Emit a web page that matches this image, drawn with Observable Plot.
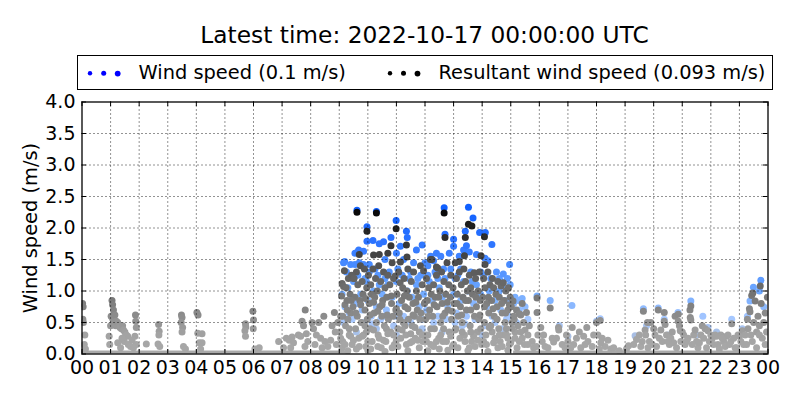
<!DOCTYPE html>
<html>
<head>
<meta charset="utf-8">
<script src="https://cdn.jsdelivr.net/npm/d3@7"></script>
<script src="https://cdn.jsdelivr.net/npm/@observablehq/plot@0.6"></script>
<style>
  html, body { margin: 0; padding: 0; background: #fff; }
  body { width: 800px; height: 400px; overflow: hidden; font-family: "DejaVu Sans", sans-serif; }
  #title { height: 55px; box-sizing: border-box; padding-top: 20.5px; margin-left: 81.5px; width: 686px;
           text-align: center; font-size: 23.3px; line-height: 27px; color: #000; white-space: nowrap; }
  #legendwrap { height: 35px; position: relative; }
  #legend { position: absolute; left: 77px; top: 0; width: 696px; height: 35px; box-sizing: border-box;
            border: 1px solid #000; font-size: 19.4px; }
  #legend .lab { position: absolute; top: 5px; line-height: 23px; white-space: nowrap; }
  #legend svg { position: absolute; top: 0; left: 0; }
  svg { display: block; }
</style>
</head>
<body>
<div id="title"></div>
<div id="legendwrap"><div id="legend"></div></div>
<div id="chart"></div>
<script>
// ---------------- data ----------------
const titleText = "Latest time: 2022-10-17 00:00:00 UTC";
const seriesNames = ["Wind speed (0.1 m/s)", "Resultant wind speed (0.093 m/s)"];
const yLabel = "Wind speed (m/s)";
const hourTicks = d3.range(0, 25);
const hourLabels = ["00","01","02","03","04","05","06","07","08","09","10","11","12","13","14","15","16","17","18","19","20","21","22","23","00"];
const speedTicks = [0, 0.5, 1, 1.5, 2, 2.5, 3, 3.5, 4];
const speedLabels = ["0.0","0.5","1.0","1.5","2.0","2.5","3.0","3.5","4.0"];

// calm periods (speed 0) [start hour, end hour]
const calmPeriods = [[0, 9.4], [15.1, 24]];

// wind speed samples [hour, m/s]
const windSpeed = [
  [9.62,2.28],[10.30,2.26],[10.99,2.12],[9.97,2.02],[11.35,1.95],[11.38,1.85],[9.97,1.79],[10.18,1.8],[10.4,1.75],
  [10.55,1.78],[10.81,1.85],[11.14,1.71],[11.7,1.65],[11.9,1.73],[9.68,1.65],[9.62,1.61],[9.85,1.63],[9.55,1.6],
  [9.19,1.47],[9.15,1.45],[9.4,1.42],[9.55,1.42],[9.7,1.45],[9.85,1.42],[10.05,1.42],[11.6,1.45],[12.0,1.45],
  [12.3,1.48],[12.1,1.4],[12.67,2.32],[13.52,2.33],[13.68,2.16],[12.7,1.9],[13.41,1.95],[13.91,1.93],[14.11,1.93],
  [13.0,1.82],[13.0,1.71],[14.34,1.74],[13.35,1.65],[13.45,1.72],[13.55,1.62],[14.96,1.42],[14.1,1.52],[14.2,1.48],
  [12.4,1.6],[12.55,1.55],[12.85,1.6],[13.2,1.55],[13.8,1.58],[14.5,1.3],[14.6,1.2],[14.7,1.08],[14.74,1.27],
  [14.98,1.1],[14.6,1.0],[10.6,1.5],[11.0,1.6],[11.25,1.5],[12.2,1.55],
  [9.1,0.95],[9.2,0.75],[9.3,1.05],[9.35,0.65],[9.45,0.9],[9.5,1.15],[9.6,0.8],[9.65,1.25],[9.75,0.95],[9.8,0.7],
  [9.9,1.2],[10.0,0.85],[10.05,1.3],[10.12,0.6],[10.2,1.0],[10.25,1.35],[10.3,0.75],[10.4,1.1],[10.45,0.55],
  [10.5,0.95],[10.6,1.2],[10.65,0.7],[10.75,1.3],[10.85,0.9],[10.95,0.6],[11.0,1.15],[11.1,0.8],[11.2,1.25],
  [11.3,0.55],[11.38,1.0],[11.45,1.2],[11.55,0.9],[11.62,0.6],[11.7,1.1],[11.8,0.75],[11.85,1.25],[11.95,0.95],
  [12.05,0.7],[12.15,1.15],[12.25,0.85],[12.35,1.3],[12.45,0.6],[12.5,1.05],[12.6,0.9],[12.7,1.2],[12.8,0.75],
  [12.9,1.35],[13.0,0.95],[13.1,0.65],[13.15,1.25],[13.25,0.85],[13.35,1.15],[13.45,0.6],[13.5,1.0],[13.6,1.3],
  [13.7,0.8],[13.8,1.1],[13.85,0.55],[13.95,0.95],[14.05,1.25],[14.15,0.75],[14.25,1.0],[14.35,0.6],[14.45,0.85],
  [14.55,0.95],[14.65,0.7],[14.8,0.85],[14.9,0.6],[15.0,0.85],[15.1,0.8],[15.15,0.9],[15.25,0.85],[15.3,0.7],
  [15.4,0.88],[15.5,0.75],[15.6,0.55],[15.92,0.92],[16.38,0.85],[17.14,0.77],[17.0,0.28],[19.35,0.29],[19.64,0.72],
  [19.75,0.45],[20.16,0.73],[20.37,0.55],[21.3,0.84],[21.72,0.6],[22.73,0.55],[23.28,0.6],[23.37,0.84],[23.49,1.06],
  [23.75,1.17],[23.7,1.0],[23.85,0.75],[23.1,0.4],[22.2,0.35],[21.9,0.42],[21.5,0.3],[20.85,0.66],[20.5,0.3],
  [16.7,0.45],[18.13,0.56],[18.0,0.52],[9.6,0.35],[10.3,0.4],[11.0,0.3],[11.9,0.4],[12.6,0.35],[13.3,0.45],[14.0,0.3],[14.7,0.4],
  [9.15,0.5],[9.45,0.55],[9.85,0.5],[10.15,0.48],[10.55,0.6],[10.9,0.45],[11.25,0.6],[11.5,0.5],[11.9,0.55],[12.3,0.5],
  [12.75,0.55],[13.05,0.5],[13.4,0.48],[13.75,0.55],[14.1,0.45],[14.45,0.5],[14.85,0.55],[15.2,0.5],
  [9.25,1.3],[9.55,1.25],[9.95,1.15],[10.35,1.25],[10.7,1.1],[11.05,1.35],[11.5,1.3],[11.75,1.2],[12.1,1.25],[12.45,1.2],
  [12.65,1.35],[13.05,1.2],[13.25,1.35],[13.65,1.15],[13.95,1.3],[14.3,1.2],[14.65,1.15],[14.88,1.2]
];

// resultant wind speed samples [hour, m/s]
const resultantSpeed = [
  [0.02,0.80],[0.04,0.75],[0.03,0.55],[0.05,0.50],[0.1,0.30],[0.08,0.15],[0.12,0.08],
  [0.95,0.28],[0.97,0.15],[1.0,0.45],[1.02,0.6],[1.05,0.85],[1.07,0.78],[1.1,0.7],[1.08,0.55],[1.12,0.5],[1.15,0.62],
  [1.18,0.45],[1.2,0.52],[1.25,0.5],[1.3,0.45],[1.33,0.42],[1.38,0.4],[1.42,0.45],[1.45,0.38],[1.5,0.35],[1.55,0.3],
  [1.48,0.2],[1.6,0.28],[1.62,0.15],[1.7,0.12],[1.35,0.1],[1.25,0.18],[1.4,0.25],
  [1.87,0.62],[1.88,0.52],[1.9,0.42],[1.85,0.28],[1.9,0.15],[1.75,0.22],[1.8,0.1],[2.25,0.16],
  [2.68,0.47],[2.7,0.36],[2.69,0.3],[2.66,0.16],[2.72,0.12],
  [3.48,0.62],[3.5,0.58],[3.47,0.5],[3.52,0.42],[3.5,0.35],[3.55,0.12],[3.62,0.08],
  [4.02,0.66],[4.06,0.62],[4.05,0.33],[4.2,0.32],[4.1,0.18],[4.2,0.18],[4.15,0.08],
  [5.72,0.48],[5.73,0.43],[5.7,0.37],[5.72,0.28],[5.98,0.68],[6.0,0.54],[5.99,0.4],[6.05,0.08],[6.2,0.1],
  [6.88,0.2],[7.15,0.25],[7.25,0.22],[7.35,0.27],[7.4,0.18],[7.05,0.1],[7.3,0.1],
  [7.57,0.3],[7.65,0.28],[7.81,0.7],[7.7,0.52],[7.75,0.45],[7.85,0.32],[7.9,0.2],[7.8,0.12],
  [8.05,0.5],[8.1,0.4],[8.2,0.3],[8.28,0.5],[8.46,0.6],[8.35,0.25],[8.15,0.15],[8.5,0.2],[8.4,0.1],
  [8.83,0.66],[8.86,0.35],[8.7,0.22],[8.9,0.15],[8.6,0.12],[8.95,0.5],[8.75,0.45],
  [9.62,2.25],[10.30,2.24],[10.99,1.99],[9.97,1.95],[11.35,1.73],[10.81,1.72],[9.7,1.58],[10.2,1.57],[10.4,1.58],
  [10.7,1.6],[11.37,1.54],[11.14,1.46],[12.19,1.5],[12.4,1.38],[12.67,2.24],[13.52,2.06],[13.64,2.03],[12.7,1.85],
  [13.41,1.85],[14.08,1.86],[13.38,1.56],[13.96,1.56],[14.1,1.42],[12.77,1.45],[13.06,1.45],[13.2,1.47],[10.85,1.45],
  [11.4,1.35],[9.18,1.32],[9.5,1.2],[9.6,1.3],
  [9.02,0.35],[9.05,0.6],[9.08,0.92],[9.1,1.12],[9.12,0.2],[9.15,1.07],[9.2,0.78],[9.22,0.45],[9.24,1.05],
  [9.27,0.85],[9.3,0.55],[9.32,1.2],[9.35,0.3],[9.38,0.95],[9.4,0.65],[9.43,1.25],[9.45,0.15],[9.48,0.75],
  [9.52,1.2],[9.55,0.9],[9.57,0.4],[9.63,0.6],[9.65,1.1],[9.68,0.25],[9.72,0.85],[9.74,1.4],
  [9.77,0.5],[9.8,1.15],[9.83,0.95],[9.85,0.3],[9.88,1.35],[9.9,0.7],[9.93,0.12],[9.96,1.05],[9.98,0.55],
  [10.02,1.25],[10.05,0.8],[10.08,0.4],[10.1,1.1],[10.13,0.95],[10.15,0.2],[10.18,1.35],[10.22,0.65],[10.24,0.9],
  [10.27,1.2],[10.3,0.5],[10.33,1.0],[10.36,0.3],[10.38,1.4],[10.42,0.75],[10.45,1.15],[10.47,0.1],[10.49,0.6],
  [10.52,0.85],[10.55,1.3],[10.58,0.45],[10.6,1.05],[10.63,0.2],[10.66,0.9],[10.7,1.25],[10.72,0.55],
  [10.77,1.1],[10.8,0.35],[10.83,0.8],[10.88,0.6],[10.9,1.2],[10.93,0.15],[10.96,1.24],[10.98,0.7],
  [11.02,0.95],[11.05,0.4],[11.08,1.3],[11.1,0.65],[11.13,1.13],[11.15,0.25],[11.18,0.85],[11.22,1.05],[11.24,0.5],
  [11.27,1.2],[11.3,0.75],[11.33,0.3],[11.36,1.0],[11.42,0.55],[11.45,0.9],[11.48,0.18],
  [11.52,1.15],[11.55,0.45],[11.58,0.8],[11.6,1.3],[11.63,0.6],[11.66,0.25],[11.7,1.0],[11.73,0.7],
  [11.77,0.9],[11.8,0.35],[11.84,1.4],[11.86,0.65],[11.9,1.1],[11.93,0.2],[11.95,1.32],[11.98,0.8],
  [12.02,0.55],[12.05,1.2],[12.08,0.85],[12.1,0.3],[12.13,1.05],[12.16,0.7],[12.2,0.15],[12.22,0.95],[12.24,1.5],
  [12.27,0.6],[12.3,1.1],[12.33,0.4],[12.36,0.9],[12.4,1.25],[12.42,0.75],[12.45,1.36],[12.48,0.25],
  [12.52,1.0],[12.55,0.5],[12.58,1.3],[12.6,0.8],[12.63,0.2],[12.66,1.15],[12.7,0.65],[12.73,0.95],
  [12.8,0.7],[12.83,1.1],[12.85,0.35],[12.88,0.9],[12.9,1.25],[12.93,0.55],[12.96,0.12],[12.98,1.05],
  [13.02,0.8],[13.08,0.4],[13.1,1.2],[13.13,0.95],[13.16,0.6],[13.2,1.3],[13.22,0.25],[13.24,0.75],
  [13.27,1.1],[13.3,0.5],[13.33,0.9],[13.36,1.35],[13.38,0.3],[13.42,1.15],[13.45,0.7],[13.48,1.0],
  [13.52,0.85],[13.55,1.25],[13.58,0.45],[13.6,1.05],[13.63,0.2],[13.66,0.95],[13.72,1.29],[13.73,0.6],
  [13.77,1.2],[13.8,0.75],[13.83,0.35],[13.86,1.0],[13.88,0.55],[13.9,1.3],[13.93,0.85],[13.98,0.15],
  [14.02,0.9],[14.05,1.2],[14.08,0.5],[14.1,1.05],[14.13,0.3],[14.16,0.8],[14.2,1.3],[14.23,0.65],
  [14.27,1.1],[14.3,0.45],[14.33,0.85],[14.36,1.2],[14.4,1.05],[14.42,0.6],[14.45,0.25],[14.48,0.95],
  [14.52,0.75],[14.55,1.15],[14.58,0.4],[14.6,0.9],[14.63,0.2],[14.66,1.08],[14.7,0.65],[14.74,1.13],
  [14.77,0.85],[14.8,0.5],[14.83,1.0],[14.86,0.3],[14.9,0.7],[14.92,1.05],[14.95,0.15],[14.98,0.9],
  [9.1,0.1],[9.4,0.28],[9.7,0.12],[9.95,0.35],[10.1,0.08],[10.4,0.25],[10.65,0.4],[10.9,0.3],[11.05,0.12],
  [11.3,0.45],[11.55,0.2],[11.8,0.1],[12.0,0.3],[12.3,0.12],[12.55,0.3],[12.75,0.2],[13.0,0.15],[13.3,0.35],
  [13.55,0.1],[13.7,0.28],[13.95,0.4],[14.15,0.15],[14.35,0.35],[14.55,0.1],[14.75,0.3],[14.9,0.25],[15.05,0.5],
  [9.3,0.05],[10.0,0.06],[10.6,0.04],[11.4,0.05],[12.1,0.05],[12.8,0.06],[13.5,0.05],[14.2,0.04],[14.9,0.06],
  [9.05,0.25],[9.2,0.15],[9.35,0.4],[9.5,0.22],[9.6,0.08],[9.8,0.28],[9.9,0.45],[10.0,0.2],[10.2,0.38],[10.35,0.12],
  [10.55,0.22],[10.7,0.32],[10.85,0.1],[11.0,0.22],[11.2,0.38],[11.35,0.15],[11.5,0.32],[11.65,0.42],[11.75,0.22],
  [11.9,0.3],[12.05,0.2],[12.2,0.4],[12.4,0.2],[12.5,0.08],[12.65,0.4],[12.9,0.28],[13.05,0.38],[13.15,0.1],
  [13.4,0.2],[13.6,0.35],[13.75,0.12],[13.85,0.22],[14.05,0.2],[14.25,0.42],[14.4,0.18],[14.6,0.3],[14.7,0.12],
  [14.85,0.4],[15.0,0.18],[15.15,0.35],[15.25,0.45],[15.4,0.25],[15.5,0.38],
  [9.12,0.6],[9.28,0.7],[9.42,0.85],[9.58,0.65],[9.75,0.78],[9.92,0.88],[10.08,0.62],[10.2,0.82],[10.35,0.68],
  [10.5,0.78],[10.68,0.62],[10.82,0.92],[11.0,0.72],[11.12,0.55],[11.28,0.92],[11.4,0.72],[11.58,0.62],[11.68,0.82],
  [11.82,0.55],[12.0,0.82],[12.12,0.6],[12.32,0.78],[12.48,0.9],[12.62,0.6],[12.78,0.82],[12.95,0.68],[13.12,0.8],
  [13.28,0.62],[13.42,0.85],[13.6,0.7],[13.78,0.9],[13.92,0.62],[14.08,0.75],[14.22,0.9],[14.38,0.72],[14.52,0.55],
  [14.68,0.8],[14.82,0.65],[14.95,0.78],[15.12,0.55],[15.35,0.62],
  [15.02,0.75],[15.05,0.4],[15.08,0.84],[15.1,0.6],[15.15,0.25],[15.2,0.7],[15.22,0.1],
  [15.3,0.64],[15.35,0.35],[15.4,0.8],[15.45,0.5],[15.48,0.15],
  [15.55,0.66],[15.6,0.3],[15.65,0.45],[15.75,0.2],[15.8,0.1],[15.92,0.89],[15.92,0.66],[15.95,0.3],
  [16.05,0.42],[16.1,0.2],[16.2,0.12],[16.38,0.73],[16.45,0.25],[16.5,0.19],[16.67,0.42],[16.68,0.38],[16.8,0.15],[16.9,0.1],
  [17.0,0.2],[17.15,0.42],[17.2,0.15],[17.3,0.25],[17.45,0.1],[17.55,0.28],[17.66,0.42],[17.7,0.2],[17.85,0.12],
  [18.0,0.5],[18.05,0.3],[18.13,0.53],[18.2,0.25],[18.3,0.12],[18.15,0.18],[18.5,0.08],
  [19.12,0.13],[19.4,0.23],[19.55,0.12],[19.64,0.68],[19.7,0.38],[19.72,0.3],[19.78,0.5],[19.9,0.5],[19.85,0.2],[19.95,0.15],
  [20.05,0.3],[20.16,0.7],[20.2,0.25],[20.3,0.2],[20.37,0.66],[20.37,0.52],[20.4,0.47],[20.45,0.3],[20.55,0.15],
  [20.6,0.25],[20.7,0.18],[20.75,0.6],[20.86,0.63],[20.86,0.52],[20.9,0.45],[20.93,0.37],[20.95,0.2],
  [21.05,0.3],[21.1,0.15],[21.2,0.25],[21.27,0.7],[21.3,0.76],[21.28,0.58],[21.3,0.54],[21.4,0.3],[21.5,0.2],
  [21.55,0.1],[21.65,0.3],[21.7,0.45],[21.8,0.4],[21.9,0.37],[21.95,0.2],
  [22.05,0.25],[22.15,0.3],[22.25,0.15],[22.35,0.3],[22.45,0.2],[22.55,0.28],[22.73,0.48],[22.7,0.2],[22.85,0.1],[22.95,0.3],
  [23.05,0.2],[23.1,0.37],[23.15,0.15],[23.2,0.3],[23.28,0.55],[23.3,0.4],[23.35,0.72],[23.37,0.67],[23.4,0.3],
  [23.43,0.93],[23.47,0.97],[23.5,0.5],[23.55,0.84],[23.6,0.35],[23.65,0.6],[23.7,0.45],[23.73,1.08],[23.76,0.8],
  [23.8,0.25],[23.85,0.5],[23.9,0.65],[23.95,0.35],[23.98,0.9],
  [15.3,0.2],[15.6,0.15],[15.9,0.12],[16.15,0.3],[16.3,0.1],[16.6,0.25],[16.95,0.3],[17.1,0.1],[17.4,0.35],[17.6,0.15],
  [17.9,0.3],[18.1,0.08],[18.4,0.22],[18.6,0.1],[18.8,0.05],[19.05,0.08],[19.3,0.15],[19.5,0.3],[19.6,0.2],[19.8,0.1],
  [20.0,0.4],[20.1,0.12],[20.25,0.38],[20.5,0.2],[20.65,0.35],[20.8,0.1],[21.0,0.35],[21.15,0.2],[21.35,0.15],
  [21.45,0.38],[21.6,0.18],[21.75,0.25],[21.85,0.1],[22.0,0.3],[22.1,0.15],[22.2,0.28],[22.3,0.08],[22.4,0.25],
  [22.5,0.12],[22.6,0.3],[22.65,0.15],[22.8,0.25],[22.9,0.1],[23.0,0.28],[23.25,0.15],[23.45,0.2],[23.6,0.1],[23.7,0.3],[23.9,0.15]
];

// ---------------- styling ----------------
const wsColor = d3.scaleLinear()
  .domain([0, 0.25, 0.55, 1.0, 1.4, 1.8, 2.3])
  .range(["#a9a9a9", "#a8bde0", "#a6c8ff", "#6ea8ff", "#4a8cff", "#2a72ff", "#1060ff"])
  .clamp(true);
const rwsColor = d3.scaleLinear()
  .domain([0, 0.3, 0.6, 0.9, 1.3, 1.6, 2.0, 2.3])
  .range(["#a9a9a9", "#a3a3a3", "#8c8c8c", "#787878", "#5c5c5c", "#3f3f3f", "#222222", "#050505"])
  .clamp(true);

document.getElementById("title").textContent = titleText;

// legend (HTML)
const legend = document.getElementById("legend");
legend.innerHTML = `
<svg width="696" height="35">
  <circle cx="12" cy="17.3" r="2.2" fill="#0000ff"/>
  <circle cx="25.7" cy="17.3" r="2.5" fill="#0000ff"/>
  <circle cx="39.7" cy="17.6" r="2.9" fill="#0000ff"/>
  <circle cx="312" cy="17.3" r="2.2" fill="#000"/>
  <circle cx="325.5" cy="17.3" r="2.5" fill="#000"/>
  <circle cx="339.5" cy="17.6" r="2.9" fill="#000"/>
</svg>
<span class="lab" style="left:60.5px">${seriesNames[0]}</span>
<span class="lab" style="left:360.5px">${seriesNames[1]}</span>`;

const W = 800, H = 310;
const mL = 81.5, mR = 32.5, mT = 11.5, mB = 46.5;
const fw = W - mL - mR, fh = H - mT - mB;
const tick = 4.5;

const chart = Plot.plot({
  width: W, height: H,
  marginLeft: mL, marginRight: mR, marginTop: mT, marginBottom: mB,
  style: { fontFamily: "DejaVu Sans, sans-serif", fontSize: "19px", color: "#000", background: "#fff", overflow: "visible" },
  x: { domain: [0, 24], axis: null },
  y: { domain: [0, 4], axis: null },
  color: { type: "identity" },
  marks: [
    Plot.ruleY(calmPeriods, { y: 0, x1: d => d[0], x2: d => d[1], stroke: "#a9a9a9", strokeWidth: 7, clip: true }),
    Plot.dot(windSpeed, { x: d => d[0], y: d => d[1], r: 3.5, fill: d => wsColor(d[1]), stroke: "none", clip: true }),
    Plot.dot(resultantSpeed, { x: d => d[0], y: d => d[1], r: 3.5, fill: d => rwsColor(d[1]), stroke: "none", clip: true }),
    Plot.gridX(hourTicks.slice(1, -1), { stroke: "#000", strokeOpacity: 0.85, strokeWidth: 1, strokeDasharray: "1,3" }),
    Plot.gridY(speedTicks.slice(1, -1), { stroke: "#000", strokeOpacity: 0.85, strokeWidth: 1, strokeDasharray: "1,3" }),
    Plot.tickX(hourTicks, { x: d => d, insetTop: fh - tick, stroke: "#000" }),
    Plot.tickX(hourTicks, { x: d => d, insetBottom: fh - tick, stroke: "#000" }),
    Plot.tickY(speedTicks, { y: d => d, insetRight: fw - tick, stroke: "#000" }),
    Plot.tickY(speedTicks, { y: d => d, insetLeft: fw - tick, stroke: "#000" }),
    Plot.frame({ stroke: "#000", strokeWidth: 1.3 }),
    Plot.axisX(hourTicks, { tickSize: 0, tickPadding: 6, tickFormat: (d, i) => hourLabels[i], fontSize: 19, fill: "#000" }),
    Plot.axisY(speedTicks, { tickSize: 0, tickPadding: 6.5, tickFormat: (d, i) => speedLabels[i], fontSize: 19, fill: "#000", label: null }),
    Plot.text([yLabel], { frameAnchor: "left", rotate: -90, dx: -51, textAnchor: "middle", lineAnchor: "middle", fontSize: 19.4, fill: "#000", text: d => d })
  ]
});
document.getElementById("chart").appendChild(chart);
</script>
</body>
</html>
